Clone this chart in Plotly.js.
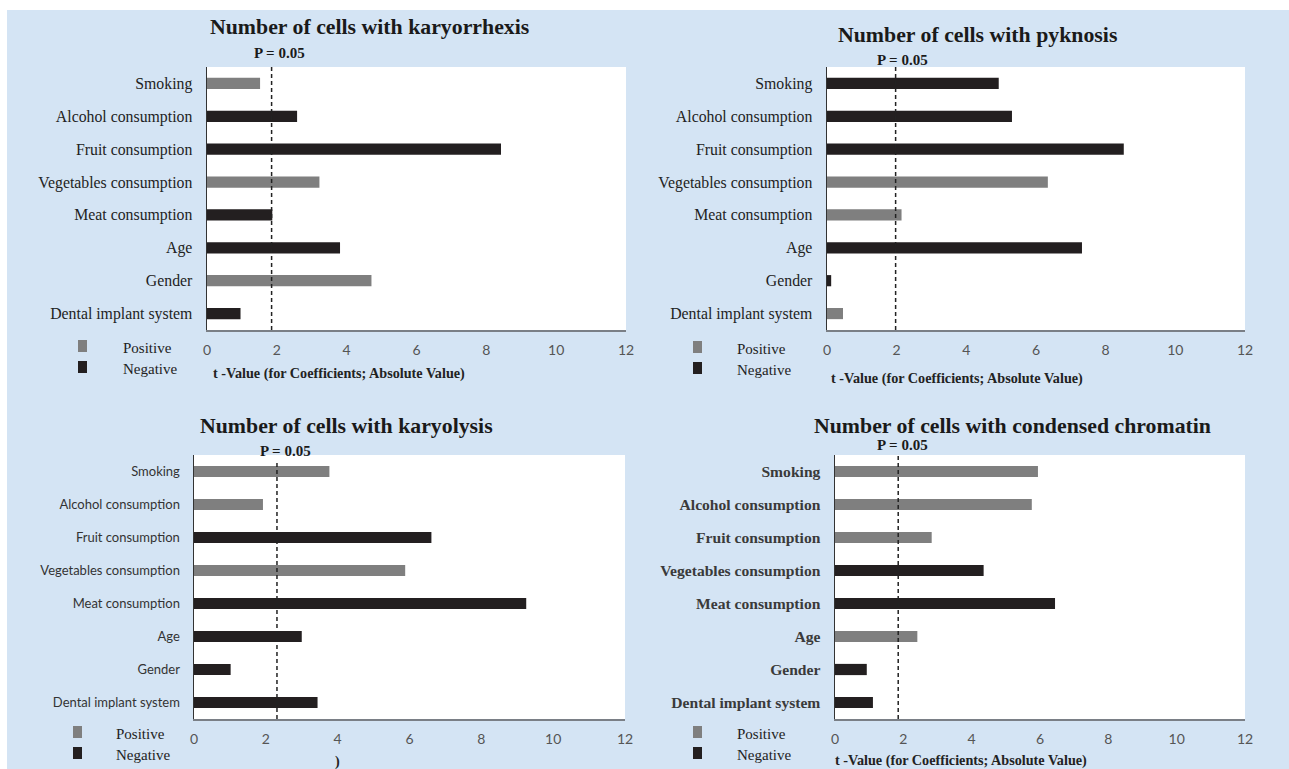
<!DOCTYPE html>
<html>
<head>
<meta charset="utf-8">
<script src="https://cdn.plot.ly/plotly-3.0.1.min.js"></script>
<style>html,body{margin:0;padding:0;background:#fff;}#chart{width:1289px;height:769px;}</style>
</head>
<body>
<div id="chart"></div>
<script>
// ---- data ----
const categories = ["Smoking","Alcohol consumption","Fruit consumption","Vegetables consumption","Meat consumption","Age","Gender","Dental implant system"];
const panelTitles = ["Number of cells with karyorrhexis","Number of cells with pyknosis","Number of cells with karyolysis","Number of cells with condensed chromatin"];
const karyorrhexisValues = [1.52, 2.58, 8.42, 3.22, 1.87, 3.81, 4.71, 0.96];
const karyorrhexisSigns  = ["+","-","-","+","-","-","+","-"];
const pyknosisValues     = [4.93, 5.31, 8.52, 6.34, 2.14, 7.32, 0.12, 0.46];
const pyknosisSigns      = ["-","-","-","+","+","-","-","+"];
const karyolysisValues   = [3.77, 1.92, 6.61, 5.88, 9.25, 3.00, 1.02, 3.44];
const karyolysisSigns    = ["+","+","-","+","-","-","-","-"];
const chromatinValues    = [5.94, 5.76, 2.83, 4.35, 6.44, 2.41, 0.93, 1.11];
const chromatinSigns     = ["+","+","+","-","-","+","-","-"];
const thresholds = [1.85, 1.97, 2.31, 1.85];
const thresholdLabel = "P = 0.05";
const xTickVals = [0, 2, 4, 6, 8, 10, 12];
const legendLabels = ["Positive", "Negative"];
const axisTitles = ["t -Value (for Coefficients; Absolute Value)", "t -Value (for Coefficients; Absolute Value)", ")", "t -Value (for Coefficients; Absolute Value)"];

// ---- styles ----
const W = 1289, H = 769;
const px = v => v / W;
const py = v => 1 - v / H;
const POS = "#7f7f7f", NEG = "#231f20";
const serif = "Liberation Serif";
const sans = "Lato";

const values = [karyorrhexisValues, pyknosisValues, karyolysisValues, chromatinValues];
const signs = [karyorrhexisSigns, pyknosisSigns, karyolysisSigns, chromatinSigns];

// pixel boxes of each plot area [x0,x1,y0(top),y1(bottom)]
const boxes = [[207,626,67,330],[827,1245,67,330],[194,625,455,719],[835,1245,455,719]];
const catFonts = [
  {family: serif, size: 15.8, color: "#222"},
  {family: serif, size: 15.8, color: "#222"},
  {family: sans, size: 13, color: "#333"},
  {family: serif, size: 15.6, color: "#3a3a3a", weight: "bold"}
];
const titlePos = [[369,27],[977,35],[346,426],[1012,426]];
const pPos = [[279,53],[902,60],[285,451],[902,445]];
const axisTitlePos = [[339,373],[957,378],[337,761],[961,760]];
const legendPos = [[78,121,346,367],[693,735,347,368],[73,114,732,753],[693,735,732,753]];

const traces = [];
const layout = {
  width: W, height: H,
  margin: {l:0, r:0, t:0, b:0},
  paper_bgcolor: "#d4e4f4",
  plot_bgcolor: "#ffffff",
  showlegend: false,
  barmode: "overlay",
  shapes: [],
  annotations: []
};
// white margins at top and left of the picture
layout.shapes.push({type:"rect", xref:"paper", yref:"paper", x0:0, x1:1, y0:py(10), y1:1,
  fillcolor:"#ffffff", line:{width:0}, layer:"below"});
layout.shapes.push({type:"rect", xref:"paper", yref:"paper", x0:0, x1:px(7), y0:0, y1:1,
  fillcolor:"#ffffff", line:{width:0}, layer:"below"});

for (let i = 0; i < 4; i++) {
  const sfx = i === 0 ? "" : String(i + 1);
  const b = boxes[i];
  traces.push({
    type: "bar", orientation: "h",
    x: values[i], y: categories,
    xaxis: "x" + sfx, yaxis: "y" + sfx,
    width: 0.34,
    marker: {color: signs[i].map(s => s === "+" ? POS : NEG), line: {width: 0}},
    hoverinfo: "x+y"
  });
  layout["xaxis" + sfx] = {
    domain: [px(b[0]), px(b[1])], anchor: "y" + sfx,
    range: [0, 12], tickvals: xTickVals, ticks: "",
    showgrid: false, zeroline: false,
    showline: true, linecolor: "#7a7f86", linewidth: 2,
    tickfont: {family: sans, size: 14, color: "#555"},
    ticklabelstandoff: 6
  };
  layout["yaxis" + sfx] = {
    domain: [py(b[3]), py(b[2])], anchor: "x" + sfx,
    type: "category", categoryorder: "array", categoryarray: categories,
    autorange: "reversed", range: [7.5, -0.5],
    ticks: "", showgrid: false, zeroline: false,
    showline: true, linecolor: "#333", linewidth: 1.5,
    tickfont: catFonts[i],
    ticklabelstandoff: 10
  };
  // threshold dashed line
  layout.shapes.push({type:"line", xref:"x" + sfx, yref:"y" + sfx + " domain",
    x0: thresholds[i], x1: thresholds[i], y0: 0, y1: i === 2 ? 0.97 : 1,
    line: {color:"#222", width:1.5, dash:"4px,3px"}});
  // titles
  layout.annotations.push({xref:"paper", yref:"paper", x:px(titlePos[i][0]), y:py(titlePos[i][1]),
    text: "<b>" + panelTitles[i] + "</b>", showarrow:false, xanchor:"center", yanchor:"middle",
    font:{family: serif, size: 21.8, color:"#1a1a1a"}});
  layout.annotations.push({xref:"paper", yref:"paper", x:px(pPos[i][0]), y:py(pPos[i][1]),
    text: "<b>" + thresholdLabel + "</b>", showarrow:false, xanchor:"center", yanchor:"middle",
    font:{family: serif, size: 15, color:"#1a1a1a"}});
  layout.annotations.push({xref:"paper", yref:"paper", x:px(axisTitlePos[i][0]), y:py(axisTitlePos[i][1]),
    text: "<b>" + axisTitles[i] + "</b>", showarrow:false, xanchor:"center", yanchor:"middle",
    font:{family: serif, size: 14.2, color:"#222"}});
  // legend
  const L = legendPos[i];
  [POS, NEG].forEach((c, k) => {
    const cy = L[2 + k];
    layout.shapes.push({type:"rect", xref:"paper", yref:"paper",
      x0:px(L[0]), x1:px(L[0] + 9), y0:py(cy + 6), y1:py(cy - 6),
      fillcolor: c, line:{width:0}});
    layout.annotations.push({xref:"paper", yref:"paper", x:px(L[1]), y:py(cy + 2),
      text: legendLabels[k], showarrow:false, xanchor:"left", yanchor:"middle",
      font:{family: serif, size: 15, color:"#222"}});
  });
}

Plotly.newPlot("chart", traces, layout, {displayModeBar:false, staticPlot:true});
</script>
</body>
</html>
